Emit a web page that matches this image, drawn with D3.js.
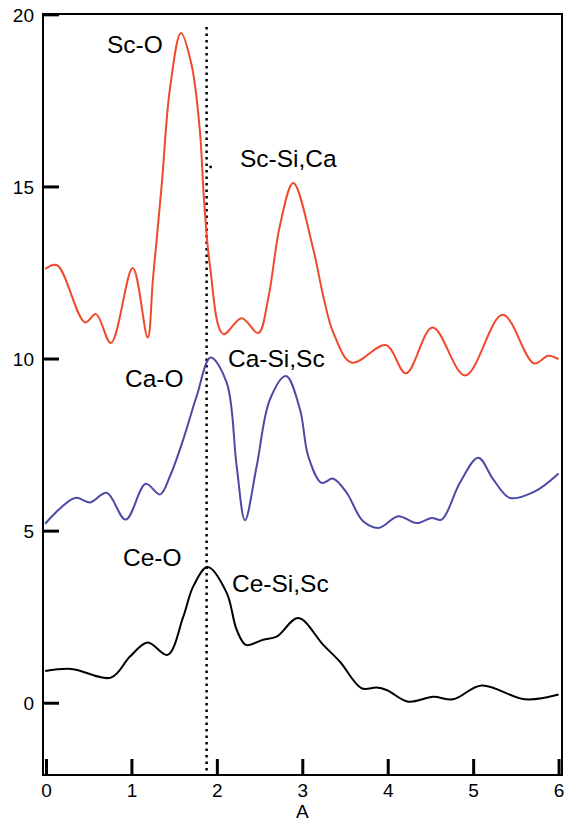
<!DOCTYPE html>
<html>
<head>
<meta charset="utf-8">
<script src="https://cdn.jsdelivr.net/npm/d3@7"></script>
<style>
  body { margin: 0; background: #fff; }
  text { font-family: "Liberation Sans", Arial, sans-serif; }
</style>
</head>
<body>
<script>
// x positions (A) and values for each curve
const scX = [-0.01, 0.13, 0.456, 0.585, 0.76, 1.015, 1.19, 1.252, 1.354, 1.451, 1.58, 1.705, 1.802, 1.849, 1.919, 2.075, 2.29, 2.485, 2.6, 2.738, 2.894, 3.128, 3.245, 3.362, 3.578, 3.98, 4.213, 4.525, 4.907, 5.345, 5.711, 5.879, 6.0];
const scY = [12.6, 12.71, 11.05, 11.29, 10.45, 12.63, 10.61, 12.31, 15.03, 17.84, 19.46, 18.52, 16.59, 14.64, 12.7, 10.71, 11.17, 10.74, 11.73, 13.86, 15.1, 13.18, 11.82, 10.76, 9.88, 10.39, 9.57, 10.9, 9.51, 11.27, 9.86, 10.08, 9.98];

const caX = [-0.01, 0.339, 0.515, 0.71, 0.933, 1.167, 1.334, 1.451, 1.607, 1.764, 1.927, 2.115, 2.232, 2.329, 2.466, 2.621, 2.809, 2.973, 3.07, 3.226, 3.362, 3.519, 3.713, 3.9, 4.123, 4.338, 4.514, 4.631, 4.845, 5.059, 5.235, 5.43, 5.723, 6.0];
const caY = [5.2, 5.95, 5.82, 6.1, 5.32, 6.36, 6.05, 6.58, 7.65, 8.91, 10.03, 9.3, 6.87, 5.3, 6.87, 8.81, 9.49, 8.52, 7.16, 6.39, 6.51, 6.1, 5.27, 5.08, 5.42, 5.22, 5.37, 5.32, 6.39, 7.12, 6.49, 5.95, 6.14, 6.66];

const ceX = [-0.01, 0.3, 0.76, 0.983, 1.19, 1.424, 1.607, 1.724, 1.892, 2.115, 2.232, 2.341, 2.543, 2.7, 2.953, 3.245, 3.441, 3.695, 3.87, 3.987, 4.24, 4.533, 4.766, 5.099, 5.606, 6.0];
const ceY = [0.92, 0.98, 0.73, 1.34, 1.75, 1.39, 2.5, 3.38, 3.94, 3.19, 2.12, 1.68, 1.83, 1.92, 2.46, 1.68, 1.19, 0.42, 0.44, 0.37, 0.03, 0.17, 0.1, 0.5, 0.1, 0.24];

const xTicks = [0, 1, 2, 3, 4, 5, 6];
const yTicks = [0, 5, 10, 15, 20];
const refLineX = 1.88;

const labels = [
  { text: "Sc-O", x: 107, y: 53 },
  { text: "Sc-Si,Ca", x: 240, y: 167 },
  { text: "Ca-O", x: 125, y: 387 },
  { text: "Ca-Si,Sc", x: 228, y: 367 },
  { text: "Ce-O", x: 123, y: 566 },
  { text: "Ce-Si,Sc", x: 232, y: 592 }
];

const width = 565, height = 834;
const mLeft = 43, mRight = 562, mTop = 14, mBottom = 775;

const x = d3.scaleLinear().domain([-0.035, 6.04]).range([mLeft, mRight]);
const y = d3.scaleLinear().domain([-2.1, 20.01]).range([mBottom, mTop]);

const svg = d3.create("svg")
  .attr("width", width)
  .attr("height", height)
  .attr("viewBox", [0, 0, width, height]);

// frame
svg.append("rect")
  .attr("x", mLeft).attr("y", mTop)
  .attr("width", mRight - mLeft).attr("height", mBottom - mTop)
  .attr("fill", "none").attr("stroke", "#000").attr("stroke-width", 2);

// reference dotted line
svg.append("line")
  .attr("x1", x(refLineX)).attr("x2", x(refLineX))
  .attr("y1", 27).attr("y2", mBottom)
  .attr("stroke", "#000").attr("stroke-width", 2.5)
  .attr("stroke-dasharray", "2.5,4");

svg.append("circle")
  .attr("cx", x(refLineX) + 4).attr("cy", 167)
  .attr("r", 1.4).attr("fill", "#000");

const line = d3.line()
  .x(d => x(d[0]))
  .y(d => y(d[1]))
  .curve(d3.curveCatmullRom.alpha(0.5));

const series = [
  { xs: scX, ys: scY, color: "#f04a2c" },
  { xs: caX, ys: caY, color: "#4b4aa6" },
  { xs: ceX, ys: ceY, color: "#000" }
];

series.forEach(s => {
  svg.append("path")
    .datum(s.xs.map((v, i) => [v, s.ys[i]]))
    .attr("fill", "none")
    .attr("stroke", s.color)
    .attr("stroke-width", 2)
    .attr("stroke-linejoin", "round")
    .attr("d", line);
});

// axes with inward ticks
const xAxis = svg.append("g")
  .attr("transform", `translate(0,${mBottom})`)
  .call(d3.axisBottom(x).tickValues(xTicks).tickSize(-16).tickPadding(9).tickFormat(d3.format("d")));
xAxis.select(".domain").remove();
xAxis.selectAll(".tick line").attr("stroke-width", 3);
xAxis.selectAll(".tick text").attr("font-size", 19).attr("fill", "#000");

const yAxis = svg.append("g")
  .attr("transform", `translate(${mLeft},0)`)
  .call(d3.axisLeft(y).tickValues(yTicks).tickSize(-16).tickPadding(26).tickFormat(d3.format("d")));
yAxis.select(".domain").remove();
yAxis.selectAll(".tick line").attr("stroke-width", 3);
yAxis.selectAll(".tick text").attr("font-size", 19).attr("fill", "#000")
  .attr("x", -9).attr("dy", "0.35em");

svg.append("text")
  .attr("x", x(3)).attr("y", 818)
  .attr("text-anchor", "middle")
  .attr("font-size", 19)
  .text("A");

svg.selectAll(".lbl")
  .data(labels)
  .join("text")
  .attr("class", "lbl")
  .attr("x", d => d.x).attr("y", d => d.y)
  .attr("font-size", 24.5)
  .attr("fill", "#000")
  .text(d => d.text);

document.body.appendChild(svg.node());
</script>
</body>
</html>
